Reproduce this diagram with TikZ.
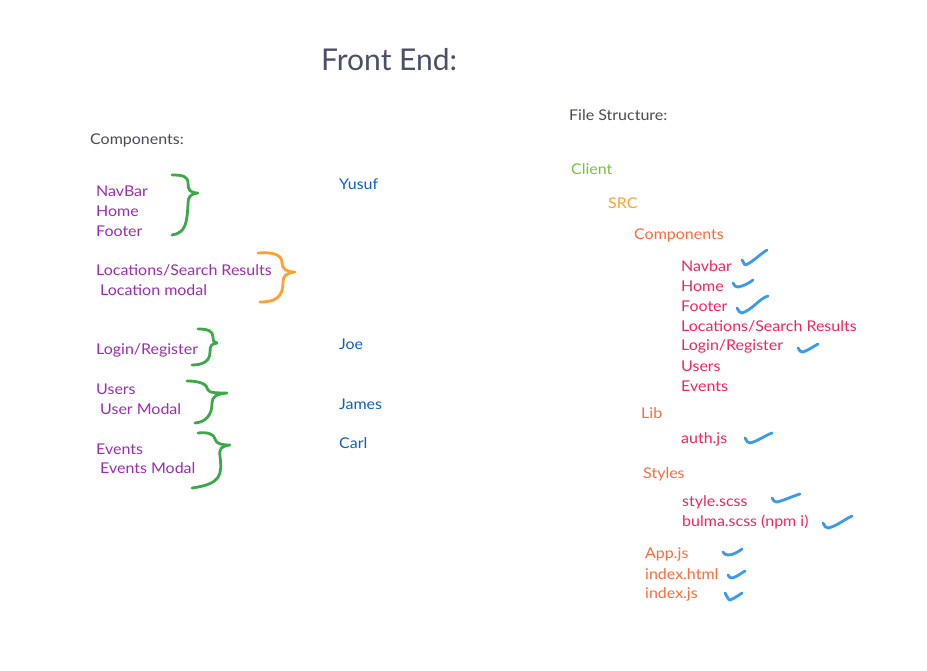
\documentclass[tikz,border=0pt]{standalone}
\usepackage{fontspec}
\setmainfont{Lato}
\newfontfamily\widefont{Lato}[FakeStretch=1.08]
\definecolor{titlegray}{HTML}{4A5068}
\definecolor{labgray}{HTML}{474C5C}
\definecolor{comppurple}{HTML}{9C2DB0}
\definecolor{nameblue}{HTML}{1160C0}
\definecolor{clientgreen}{HTML}{7CBF45}
\definecolor{srcorange}{HTML}{FFA030}
\definecolor{dirorange}{HTML}{FF6A3D}
\definecolor{filered}{HTML}{F5245C}
\definecolor{bracegreen}{HTML}{3CA84A}
\definecolor{braceorange}{HTML}{FFA030}
\definecolor{checkblue}{HTML}{3A9BE8}
\tikzset{
  txt/.style={anchor=west,inner sep=0pt,font=\widefont\fontsize{14.8}{16}\selectfont},
  comp/.style={txt,text=comppurple},
  who/.style={txt,text=nameblue},
  dir/.style={txt,text=dirorange},
  file/.style={txt,text=filered},
  brace/.style={line width=2.8pt,line cap=round,line join=round},
  check/.style={line width=2.8pt,line cap=round,line join=round,draw=checkblue},
}
\begin{document}
\begin{tikzpicture}[x=1pt,y=-1pt]
\useasboundingbox[fill=white] (0,0) rectangle (927,671);
% title and headings
\node[anchor=west,inner sep=0pt,text=titlegray,font=\fontsize{30}{34}\selectfont] (title) at (321,60) {Front End:};
\node[txt,text=labgray] (complab) at (90,140) {Components:};
\node[txt,text=labgray] (filelab) at (569,115) {File Structure:};
% components
\node[comp] (navbar) at (96,191) {NavBar};
\node[comp] (home) at (96,211) {Home};
\node[comp] (footer) at (96,231) {Footer};
\node[comp] (locs) at (96,270) {Locations/Search Results};
\node[comp] (locmodal) at (100,290) {Location modal};
\node[comp] (login) at (96,350) {Login/Register};
\node[comp] (users) at (96,389) {Users};
\node[comp] (usermodal) at (100,409) {User Modal};
\node[comp] (events) at (96,449) {Events};
\node[comp] (eventsmodal) at (100,468) {Events Modal};
% names
\node[who] (yusuf) at (339,184) {Yusuf};
\node[who] (joe) at (339,344) {Joe};
\node[who] (james) at (339,404) {James};
\node[who] (carl) at (339,443) {Carl};
% file structure
\node[txt,text=clientgreen] (client) at (571,169) {Client};
\node[txt,text=srcorange] (src) at (608,203) {SRC};
\node[dir] (components) at (634,235) {Components};
\node[file] (fnavbar) at (681,266) {Navbar};
\node[file] (fhome) at (681,286) {Home};
\node[file] (ffooter) at (681,306) {Footer};
\node[file] (flocs) at (681,326) {Locations/Search Results};
\node[file] (flogin) at (681,346) {Login/Register};
\node[file] (fusers) at (681,366) {Users};
\node[file] (fevents) at (681,386) {Events};
\node[dir] (lib) at (641,413) {Lib};
\node[file] (auth) at (681,439) {auth.js};
\node[dir] (styles) at (643,474) {Styles};
\node[file] (stylescss) at (682,502) {style.scss};
\node[file] (bulma) at (682,522) {bulma.scss (npm i)};
\node[dir] (appjs) at (645,554) {App.js};
\node[dir] (indexhtml) at (645,574) {index.html};
\node[dir] (indexjs) at (645,594) {index.js};
% braces
\draw[brace,draw=bracegreen] (172,175) .. controls (182,175) and (188,176) .. (188,183)
  .. controls (188,190) and (190,193) .. (198,193)
  .. controls (190,194) and (188,197) .. (188,204)
  .. controls (187,222) and (186,233) .. (172,235);
\draw[brace,draw=braceorange] (258,253) .. controls (272,252) and (281,254) .. (282,262)
  .. controls (282,269) and (286,272) .. (295,272)
  .. controls (286,273) and (283,276) .. (283,282)
  .. controls (283,296) and (277,302) .. (260,302);
\draw[brace,draw=bracegreen] (198,329) .. controls (208,329) and (213,331) .. (213,337)
  .. controls (213,341) and (214,343) .. (217,343)
  .. controls (211,344) and (210,346) .. (210,352)
  .. controls (210,361) and (203,365) .. (192,365);
\draw[brace,draw=bracegreen] (187,381) .. controls (200,381) and (207,384) .. (208,390)
  .. controls (209,393) and (218,393) .. (227,393)
  .. controls (216,394) and (212,397) .. (212,403)
  .. controls (212,415) and (206,422) .. (195,423);
\draw[brace,draw=bracegreen] (198,433) .. controls (208,432) and (214,434) .. (215,439)
  .. controls (216,444) and (222,445) .. (230,445)
  .. controls (221,446) and (219,449) .. (220,456)
  .. controls (222,474) and (222,484) .. (192,488);
% check marks
\draw[check] (742,260) -- (745,265) .. controls (752,263) and (760,254) .. (767,250);
\draw[check] (733,283) .. controls (734,286) and (736,287) .. (738,287) .. controls (744,286) and (749,283) .. (753,280);
\draw[check] (737,308) .. controls (738,311) and (740,313) .. (742,313) .. controls (752,310) and (760,298) .. (768,296);
\draw[check] (798,348) .. controls (799,351) and (801,352) .. (803,352) .. controls (809,350) and (814,346) .. (818,344);
\draw[check] (745,438) .. controls (746,441) and (748,443) .. (750,443) .. controls (758,441) and (766,435) .. (772,433);
\draw[check] (772,498) .. controls (773,501) and (775,502) .. (777,502) .. controls (785,500) and (793,496) .. (800,494);
\draw[check] (823,523) .. controls (824,526) and (826,528) .. (828,528) .. controls (837,526) and (845,519) .. (852,516);
\draw[check] (723,552) .. controls (724,554) and (726,555) .. (728,555) .. controls (733,555) and (738,552) .. (742,549);
\draw[check] (728,575) .. controls (729,577) and (730,578) .. (732,578) .. controls (737,577) and (741,573) .. (745,571);
\draw[check] (725,593) .. controls (727,596) and (728,600) .. (730,600) .. controls (735,598) and (739,595) .. (742,593);
\end{tikzpicture}
\end{document}
